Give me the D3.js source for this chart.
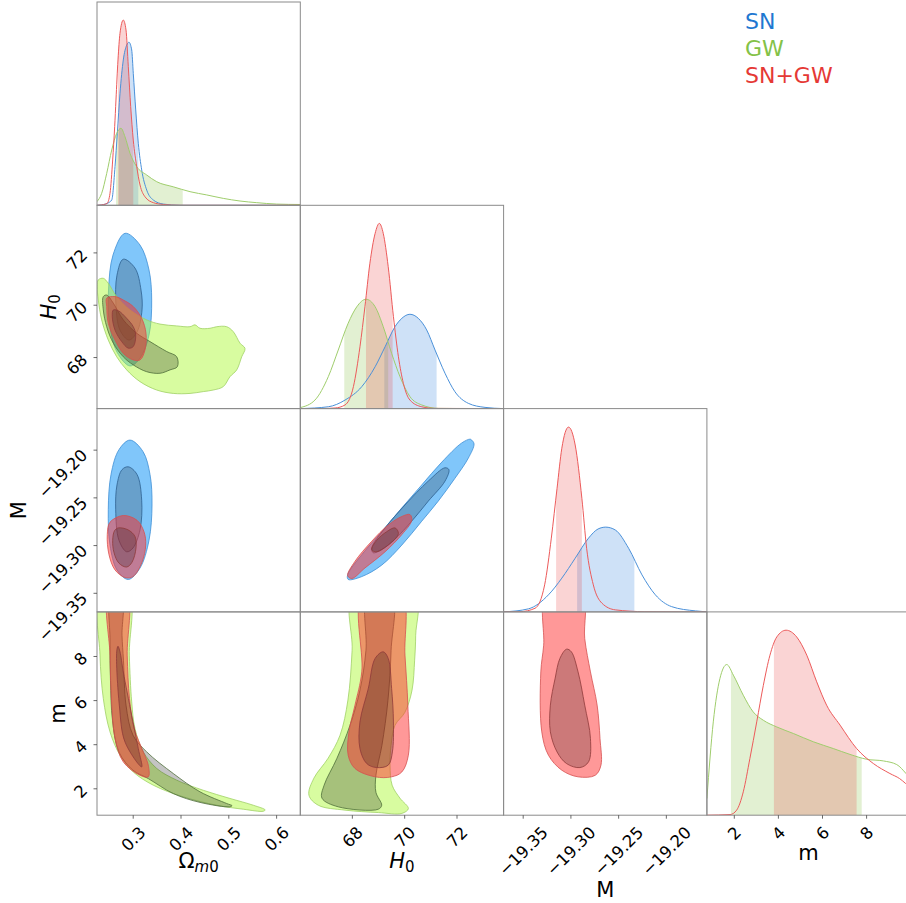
<!DOCTYPE html>
<html><head><meta charset="utf-8">
<script src="https://cdn.jsdelivr.net/npm/d3@7"></script>
<style>body{margin:0;background:#fff}svg{display:block}</style>
</head><body>
<svg id="chart" width="906" height="903"></svg>
<script>
// ---------- axis data ----------
const seriesNames = ["SN", "GW", "SN+GW"];
const paramNames = ["om", "H0", "M", "m"];
const domOm = [0.2253, 0.6506];
const domH0 = [66.03, 73.80];
const domM = [-19.370, -19.157];
const domm = [0.78, 10.0];
const omTicks = [0.3, 0.4, 0.5, 0.6];
const h0Ticks = [68, 70, 72];
const MTicks = [-19.35, -19.30, -19.25, -19.20];
const mTicks = [2, 4, 6, 8];

// ---------- 1D marginals [value, relative density] ----------
const omMargSN = [[0.2253,0],[0.2316,0.001],[0.2461,0.009],[0.2561,0.026],[0.2630,0.190],[0.2678,0.354],[0.2734,0.551],[0.2803,0.715],[0.2874,0.788],[0.2922,0.802],[0.2979,0.764],[0.3012,0.649],[0.3063,0.469],[0.3117,0.305],[0.3188,0.174],[0.3293,0.075],[0.3431,0.026],[0.3640,0.006],[0.399,0],[0.6506,0]];
const omMargGW = [[0.2253,0.018],[0.2351,0.059],[0.2456,0.157],[0.2561,0.272],[0.2665,0.354],[0.2755,0.379],[0.2839,0.337],[0.2943,0.256],[0.3084,0.190],[0.3293,0.149],[0.3502,0.116],[0.3849,0.091],[0.4199,0.067],[0.4548,0.051],[0.4895,0.034],[0.5245,0.021],[0.5594,0.013],[0.6012,0.006],[0.6506,0.004]];
const omMargSNGW = [[0.2253,0],[0.2316,0.001],[0.2462,0.009],[0.2525,0.059],[0.2581,0.223],[0.2623,0.387],[0.2650,0.518],[0.2692,0.715],[0.2734,0.846],[0.2803,0.911],[0.2860,0.862],[0.2908,0.682],[0.2958,0.485],[0.3012,0.321],[0.3084,0.190],[0.3153,0.100],[0.3257,0.042],[0.3431,0.013],[0.3640,0.004],[0.399,0],[0.6506,0]];
const omBandSN = [0.2713, 0.3117];
const omBandGW = [0.2650, 0.4046];
const omBandSNGW = [0.2692, 0.3012];

const h0MargSN = [[66.03,0],[67.10,0.009],[67.74,0.042],[68.38,0.108],[68.89,0.206],[69.27,0.304],[69.65,0.403],[69.91,0.444],[70.22,0.464],[70.54,0.444],[70.86,0.387],[71.18,0.288],[71.56,0.174],[71.94,0.083],[72.45,0.026],[73.09,0.006],[73.80,0]];
const h0MargGW = [[66.03,0.005],[66.59,0.042],[67.10,0.157],[67.48,0.288],[67.86,0.420],[68.19,0.501],[68.54,0.538],[68.89,0.501],[69.20,0.403],[69.52,0.272],[69.84,0.157],[70.22,0.059],[70.67,0.018],[71.31,0.001],[72.52,0],[73.80,0]];
const h0MargSNGW = [[66.03,0],[66.78,0],[67.36,0.003],[67.74,0.018],[68.06,0.108],[68.31,0.304],[68.50,0.501],[68.69,0.715],[68.89,0.862],[69.05,0.911],[69.20,0.862],[69.39,0.698],[69.59,0.452],[69.78,0.255],[69.97,0.124],[70.22,0.042],[70.67,0.009],[71.18,0.001],[73.80,0]];
const h0BandSN = [69.24, 71.24];
const h0BandGW = [67.71, 69.39];
const h0BandSNGW = [68.54, 69.56];

const MMargSN = [[-19.370,0],[-19.344,0.015],[-19.323,0.084],[-19.309,0.166],[-19.295,0.264],[-19.281,0.363],[-19.271,0.408],[-19.263,0.417],[-19.253,0.403],[-19.239,0.313],[-19.225,0.182],[-19.211,0.084],[-19.194,0.026],[-19.169,0.005],[-19.157,0]];
const MMargSNGW = [[-19.370,0],[-19.353,0.001],[-19.337,0.018],[-19.327,0.133],[-19.320,0.363],[-19.314,0.608],[-19.309,0.805],[-19.302,0.909],[-19.295,0.821],[-19.288,0.559],[-19.283,0.313],[-19.276,0.133],[-19.267,0.043],[-19.253,0.010],[-19.222,0.001],[-19.185,0],[-19.157,0]];
const MBandSN = [-19.293, -19.233];
const MBandSNGW = [-19.315, -19.288];

const mMargGW = [[0.78,0.082],[1.07,0.459],[1.37,0.672],[1.68,0.741],[1.98,0.689],[2.43,0.590],[2.88,0.508],[3.34,0.467],[3.95,0.434],[4.70,0.402],[5.61,0.361],[6.51,0.328],[7.27,0.299],[8.03,0.275],[8.78,0.267],[9.39,0.249],[9.81,0.205],[10.0,0.18]];
const mMargSNGW = [[0.78,0],[1.83,0.003],[2.13,0.025],[2.43,0.115],[2.73,0.279],[3.04,0.459],[3.34,0.639],[3.64,0.787],[3.95,0.877],[4.37,0.910],[4.85,0.877],[5.31,0.787],[5.76,0.656],[6.21,0.541],[6.82,0.443],[7.57,0.328],[8.33,0.254],[9.08,0.205],[9.52,0.180],[9.79,0.156],[10.0,0.133]];
const mBandGW = [1.87, 7.80];
const mBandSNGW = [3.82, 7.57];

// ---------- 2D contours (outer = 95%, inner = 68%) ----------
const omH0_SN_out = [[0.2839,72.73],[0.3153,72.28],[0.3341,71.33],[0.3397,70.18],[0.3341,68.84],[0.3153,67.96],[0.2943,67.66],[0.2671,68.19],[0.2504,69.42],[0.2494,70.56],[0.2588,71.90]];
const omH0_SN_in = [[0.2803,71.74],[0.3048,71.40],[0.3174,70.56],[0.3195,69.80],[0.3090,68.96],[0.2922,68.65],[0.2734,69.03],[0.2650,69.99],[0.2671,71.13]];
const omH0_GW_out = [[0.2280,70.95],[0.2385,71.01],[0.2489,70.82],[0.2665,70.31],[0.2943,69.80],[0.3293,69.42],[0.3571,69.26],[0.3920,69.19],[0.4199,69.16],[0.4303,69.23],[0.4408,69.10],[0.4617,69.10],[0.4757,69.16],[0.4966,69.16],[0.5104,68.97],[0.5245,68.53],[0.5349,68.33],[0.5280,68.01],[0.5176,67.51],[0.5035,67.25],[0.4895,66.87],[0.4686,66.74],[0.4477,66.68],[0.4199,66.61],[0.3849,66.61],[0.3502,66.74],[0.3153,67.06],[0.2874,67.51],[0.2665,68.01],[0.2489,68.65],[0.2351,69.42],[0.2280,70.18],[0.2259,70.69]];
const omH0_GW_in = [[0.2385,70.31],[0.2456,70.37],[0.2594,70.06],[0.2803,69.42],[0.3084,68.91],[0.3362,68.59],[0.3712,68.21],[0.3921,68.01],[0.3933,67.63],[0.3780,67.51],[0.3571,67.38],[0.3293,67.44],[0.3012,67.70],[0.2803,68.01],[0.2594,68.53],[0.2456,69.16],[0.2385,69.80]];
const omH0_SNGW_out = [[0.2456,70.25],[0.2630,70.31],[0.2803,70.18],[0.3012,69.93],[0.3188,69.48],[0.3278,68.91],[0.3257,68.27],[0.3153,67.89],[0.3012,67.89],[0.2803,68.14],[0.2630,68.65],[0.2489,69.29],[0.2456,69.93]];
const omH0_SNGW_in = [[0.2594,69.80],[0.2699,69.77],[0.2874,69.48],[0.3012,69.16],[0.3063,68.84],[0.3012,68.40],[0.2908,68.34],[0.2770,68.59],[0.2630,69.03],[0.2573,69.54]];

const omM_SN_out = [[0.2943,-19.190],[0.3215,-19.202],[0.3362,-19.226],[0.3404,-19.258],[0.3341,-19.295],[0.3153,-19.324],[0.2908,-19.336],[0.2671,-19.326],[0.2525,-19.300],[0.2489,-19.263],[0.2546,-19.226],[0.2713,-19.200]];
const omM_SN_in = [[0.2908,-19.218],[0.3090,-19.226],[0.3188,-19.253],[0.3153,-19.284],[0.3006,-19.303],[0.2874,-19.307],[0.2713,-19.295],[0.2644,-19.263],[0.2671,-19.237],[0.2776,-19.221]];
const omM_SNGW_out = [[0.2803,-19.269],[0.3090,-19.274],[0.3236,-19.286],[0.3272,-19.300],[0.3194,-19.318],[0.3006,-19.333],[0.2839,-19.334],[0.2630,-19.326],[0.2504,-19.310],[0.2468,-19.289],[0.2525,-19.276]];
const omM_SNGW_in = [[0.2699,-19.282],[0.2902,-19.284],[0.3048,-19.291],[0.3069,-19.303],[0.2985,-19.318],[0.2874,-19.323],[0.2713,-19.319],[0.2609,-19.308],[0.2581,-19.295],[0.2619,-19.285]];

const h0M_SN_out = [[72.58,-19.190],[72.67,-19.194],[72.45,-19.209],[71.94,-19.230],[71.30,-19.254],[70.67,-19.275],[69.91,-19.300],[69.14,-19.321],[68.38,-19.333],[67.86,-19.336],[67.84,-19.331],[68.38,-19.310],[69.14,-19.286],[69.91,-19.261],[70.67,-19.237],[71.44,-19.213],[72.20,-19.193],[72.52,-19.189]];
const h0M_SN_in = [[71.71,-19.221],[71.56,-19.233],[70.92,-19.254],[70.16,-19.279],[69.39,-19.300],[68.82,-19.308],[68.76,-19.303],[69.27,-19.282],[70.03,-19.258],[70.92,-19.233],[71.56,-19.219]];
const h0M_SNGW_out = [[70.22,-19.268],[70.29,-19.274],[69.91,-19.289],[69.27,-19.307],[68.50,-19.324],[68.00,-19.335],[67.84,-19.332],[68.12,-19.317],[68.76,-19.296],[69.39,-19.279],[69.91,-19.270]];
const h0M_SNGW_in = [[69.65,-19.282],[69.78,-19.288],[69.39,-19.300],[68.95,-19.307],[68.76,-19.305],[68.95,-19.295],[69.33,-19.286]];

const omm_GW_out = [[0.2330,10.8],[0.2316,8.04],[0.2385,6.07],[0.2525,4.56],[0.2734,3.50],[0.3012,2.74],[0.3431,2.14],[0.4058,1.61],[0.4757,1.23],[0.5316,1.05],[0.5734,0.96],[0.5770,1.02],[0.5525,1.23],[0.5035,1.54],[0.4477,1.91],[0.3920,2.37],[0.3502,2.90],[0.3222,3.65],[0.3048,4.71],[0.2979,5.92],[0.2929,8.04],[0.2910,10.8]];
const omm_GW_in = [[0.2525,8.72],[0.2535,6.90],[0.2577,5.09],[0.2713,3.64],[0.3006,2.82],[0.3326,2.44],[0.3849,1.76],[0.4408,1.36],[0.5035,1.16],[0.5077,1.21],[0.4966,1.31],[0.4408,1.84],[0.3849,2.67],[0.3293,3.65],[0.3006,4.41],[0.2860,5.77],[0.2807,7.81],[0.2776,8.94],[0.2770,10.8],[0.2550,10.8]];
const omm_SNGW_out = [[0.2510,10.8],[0.2525,8.04],[0.2561,5.77],[0.2630,4.26],[0.2803,3.20],[0.3153,2.59],[0.3326,2.52],[0.3326,3.05],[0.3222,3.65],[0.3030,4.71],[0.2933,6.07],[0.2885,8.04],[0.2875,10.8]];
const omm_SNGW_in = [[0.2692,8.44],[0.2734,8.19],[0.2803,7.28],[0.2979,5.31],[0.3117,3.80],[0.3188,2.97],[0.2839,4.10],[0.2720,5.77],[0.2665,8.19]];

const h0m_GW_out = [[68.06,10.8],[68.01,8.26],[67.85,6.00],[67.55,4.41],[67.09,3.36],[66.55,2.46],[66.36,1.69],[66.72,1.23],[67.74,1.01],[69.01,0.90],[69.91,0.86],[70.16,1.08],[69.84,1.55],[69.54,2.14],[69.46,3.05],[69.50,3.95],[69.65,4.86],[70.03,5.45],[70.30,6.45],[70.40,7.81],[70.44,8.94],[70.41,10.8]];
const h0m_GW_in = [[68.62,10.8],[68.54,8.26],[68.31,6.45],[67.93,4.86],[67.43,3.36],[66.94,2.14],[66.86,1.55],[67.48,1.16],[69.01,1.05],[69.14,1.23],[68.92,1.82],[68.92,2.59],[69.15,3.95],[69.38,5.99],[69.50,8.26],[69.52,10.8]];
const h0m_SNGW_out = [[68.42,10.8],[68.38,7.28],[68.12,5.77],[67.89,4.56],[67.86,3.50],[68.12,2.90],[68.89,2.52],[69.52,2.52],[69.91,2.74],[70.16,3.50],[70.14,5.77],[70.03,8.04],[69.88,10.8]];
const h0m_SNGW_in = [[69.20,8.19],[68.89,7.89],[68.63,6.53],[68.31,5.01],[68.31,3.80],[68.57,3.12],[68.95,2.94],[69.39,3.05],[69.55,3.65],[69.59,5.01],[69.52,6.53],[69.39,7.89]];

const Mm_SNGW_out = [[-19.325,10.8],[-19.328,8.49],[-19.331,7.28],[-19.330,4.56],[-19.323,3.50],[-19.309,2.82],[-19.292,2.52],[-19.274,2.59],[-19.268,3.05],[-19.269,4.26],[-19.272,5.77],[-19.279,7.28],[-19.285,8.79],[-19.288,10.8]];
const Mm_SNGW_in = [[-19.304,8.31],[-19.311,7.89],[-19.316,6.99],[-19.321,5.77],[-19.321,4.56],[-19.314,3.65],[-19.304,3.12],[-19.290,2.94],[-19.281,3.20],[-19.279,4.26],[-19.285,5.77],[-19.292,7.28],[-19.299,8.19]];

// ---------- styles ----------
const st = {
  "SN":    {legend:"#1f78d1", line:"#4a90d9", band:"rgba(30,120,220,0.22)", oFill:"rgb(24,151,246)", oOp:0.55, oStroke:"#3f8fd6", iStroke:"#2d5f8f", iOp:0.19},
  "GW":    {legend:"#84c247", line:"#9fcd6c", band:"rgba(140,195,74,0.25)", oFill:"rgb(177,249,65)", oOp:0.5, oStroke:"#9fd065", iStroke:"#4f6f3a", iOp:0.23},
  "SN+GW": {legend:"#e53935", line:"#ec5a5a", band:"rgba(230,60,60,0.22)", oFill:"rgb(255,49,49)", oOp:0.5, oStroke:"#d65050", iStroke:"#8e3a3a", iOp:0.2}
};
const FONT = "DejaVu Sans";
const TFS = 16.5;

// ---------- assemble ----------
const domains = {om:domOm, H0:domH0, M:domM, m:domm};
const tickVals = {om:omTicks, H0:h0Ticks, M:MTicks, m:mTicks};
const tickFmt = {om:d3.format(".1f"), H0:d3.format("d"), M:d3.format(".2f"), m:d3.format("d")};
const marginals = {
  om: [{s:"SN",pts:omMargSN,band:omBandSN},{s:"GW",pts:omMargGW,band:omBandGW},{s:"SN+GW",pts:omMargSNGW,band:omBandSNGW}],
  H0: [{s:"SN",pts:h0MargSN,band:h0BandSN},{s:"GW",pts:h0MargGW,band:h0BandGW},{s:"SN+GW",pts:h0MargSNGW,band:h0BandSNGW}],
  M:  [{s:"SN",pts:MMargSN,band:MBandSN},{s:"SN+GW",pts:MMargSNGW,band:MBandSNGW}],
  m:  [{s:"GW",pts:mMargGW,band:mBandGW},{s:"SN+GW",pts:mMargSNGW,band:mBandSNGW}]
};
const contours = {
  "om|H0": [{s:"SN",o:omH0_SN_out,i:omH0_SN_in},{s:"GW",o:omH0_GW_out,i:omH0_GW_in},{s:"SN+GW",o:omH0_SNGW_out,i:omH0_SNGW_in}],
  "om|M":  [{s:"SN",o:omM_SN_out,i:omM_SN_in},{s:"SN+GW",o:omM_SNGW_out,i:omM_SNGW_in}],
  "H0|M":  [{s:"SN",o:h0M_SN_out,i:h0M_SN_in},{s:"SN+GW",o:h0M_SNGW_out,i:h0M_SNGW_in}],
  "om|m":  [{s:"GW",o:omm_GW_out,i:omm_GW_in},{s:"SN+GW",o:omm_SNGW_out,i:omm_SNGW_in}],
  "H0|m":  [{s:"GW",o:h0m_GW_out,i:h0m_GW_in},{s:"SN+GW",o:h0m_SNGW_out,i:h0m_SNGW_in}],
  "M|m":   [{s:"SN+GW",o:Mm_SNGW_out,i:Mm_SNGW_in}]
};

const L = 97, T = 2, S = 203.3;
const svg = d3.select("#chart");
const defs = svg.append("defs");
const xScale = c => d3.scaleLinear().domain(domains[paramNames[c]]).range([L + c*S, L + (c+1)*S]);
const yScale = r => d3.scaleLinear().domain(domains[paramNames[r]]).range([T + (r+1)*S, T + r*S]);

for (let r = 0; r < 4; r++) {
  for (let c = 0; c <= r; c++) {
    const x0 = L + c*S, y0 = T + r*S;
    const xp = paramNames[c], yp = paramNames[r];
    const x = xScale(c);
    const id = `clip${r}${c}`;
    defs.append("clipPath").attr("id", id).append("rect")
      .attr("x", x0).attr("y", y0).attr("width", S).attr("height", S);
    const g = svg.append("g").attr("clip-path", `url(#${id})`);
    if (r === c) {
      const y = d3.scaleLinear().domain([0, 1]).range([y0 + S, y0]);
      const area = d3.area().x(d => x(d[0])).y0(y(0)).y1(d => y(d[1])).curve(d3.curveMonotoneX);
      const line = d3.line().x(d => x(d[0])).y(d => y(d[1])).curve(d3.curveMonotoneX);
      marginals[xp].forEach((m, k) => {
        const bid = `band${r}${k}`;
        defs.append("clipPath").attr("id", bid).append("rect")
          .attr("x", x(m.band[0])).attr("y", y0)
          .attr("width", x(m.band[1]) - x(m.band[0])).attr("height", S);
        g.append("g").attr("clip-path", `url(#${bid})`)
          .append("path").datum(m.pts).attr("d", area).attr("fill", st[m.s].band);
      });
      marginals[xp].forEach(m => {
        g.append("path").datum(m.pts).attr("d", line)
          .attr("fill", "none").attr("stroke", st[m.s].line).attr("stroke-width", 1);
      });
    } else {
      const y = yScale(r);
      const cl = d3.line().x(d => x(d[0])).y(d => y(d[1])).curve(d3.curveCatmullRomClosed.alpha(0.5));
      contours[xp + "|" + yp].forEach(cn => {
        g.append("path").datum(cn.o).attr("d", cl)
          .attr("fill", st[cn.s].oFill).attr("fill-opacity", st[cn.s].oOp)
          .attr("stroke", st[cn.s].oStroke).attr("stroke-width", 0.8);
        g.append("path").datum(cn.i).attr("d", cl)
          .attr("fill", "#000").attr("fill-opacity", st[cn.s].iOp)
          .attr("stroke", st[cn.s].iStroke).attr("stroke-width", 0.8);
      });
    }
  }
}
// spines
for (let r = 0; r < 4; r++) {
  for (let c = 0; c <= r; c++) {
    svg.append("rect").attr("x", L + c*S).attr("y", T + r*S).attr("width", S).attr("height", S)
      .attr("fill", "none").attr("stroke", "#8a8a8a").attr("stroke-width", 1);
  }
}

// bottom axes
const R2 = Math.SQRT2;
const capH = 0.73 * TFS;
for (let c = 0; c < 4; c++) {
  const xp = paramNames[c];
  const ga = svg.append("g").attr("transform", `translate(0,${T + 4*S})`)
    .call(d3.axisBottom(xScale(c)).tickValues(tickVals[xp]).tickSize(3.5).tickFormat(tickFmt[xp]))
    .attr("font-size", TFS).attr("font-family", FONT);
  ga.select(".domain").remove();
  ga.selectAll(".tick line").attr("stroke", "#444").attr("stroke-width", 0.8);
  ga.selectAll(".tick text").each(function() {
    const t = d3.select(this).attr("y", null).attr("dy", "0.36em").attr("text-anchor", "middle").attr("fill", "#000");
    const w = this.getComputedTextLength();
    const half = (w + capH) / (2 * R2);
    t.attr("transform", `translate(0,${10 + half}) rotate(-45)`);
  });
}
// left axes
for (let r = 1; r < 4; r++) {
  const yp = paramNames[r];
  const ga = svg.append("g").attr("transform", `translate(${L},0)`)
    .call(d3.axisLeft(yScale(r)).tickValues(tickVals[yp]).tickSize(3.5).tickFormat(tickFmt[yp]))
    .attr("font-size", TFS).attr("font-family", FONT);
  ga.select(".domain").remove();
  ga.selectAll(".tick line").attr("stroke", "#444").attr("stroke-width", 0.8);
  ga.selectAll(".tick text").each(function() {
    const t = d3.select(this).attr("x", null).attr("dy", "0.36em").attr("text-anchor", "middle").attr("fill", "#000");
    const w = this.getComputedTextLength();
    const half = (w + capH) / (2 * R2);
    const top = -6.5 + 0.07 * w;
    t.attr("transform", `translate(${-8.5 - half},${top + half}) rotate(-45)`);
  });
}

// axis labels
const LFS = 21;
function omegaLabel(sel) {
  sel.append("tspan").text("Ω");
  sel.append("tspan").attr("font-style", "italic").attr("font-size", 15).attr("dy", 4).text("m");
  sel.append("tspan").attr("font-size", 15).text("0");
}
function h0Label(sel) {
  sel.append("tspan").attr("font-style", "italic").text("H");
  sel.append("tspan").attr("font-size", 15).attr("dy", 4).text("0");
}
const lab = (x, y, rot) => svg.append("text").attr("font-family", FONT).attr("font-size", LFS)
  .attr("text-anchor", "middle").attr("fill", "#000")
  .attr("transform", `translate(${x},${y})` + (rot ? " rotate(-90)" : ""));
omegaLabel(lab(L + 0.5*S, 868, false));
h0Label(lab(L + 1.5*S, 868, false));
lab(L + 2.5*S, 897, false).text("M");
lab(L + 3.5*S, 860, false).text("m");
h0Label(lab(56, T + 1.5*S, true));
lab(26, T + 2.5*S, true).text("M");
lab(65, T + 3.5*S, true).text("m");

// legend
seriesNames.forEach((s, k) => {
  svg.append("text").attr("x", 745).attr("y", 29 + k*27)
    .attr("font-family", FONT).attr("font-size", 22).attr("fill", st[s].legend).text(s);
});
</script>
</body></html>
